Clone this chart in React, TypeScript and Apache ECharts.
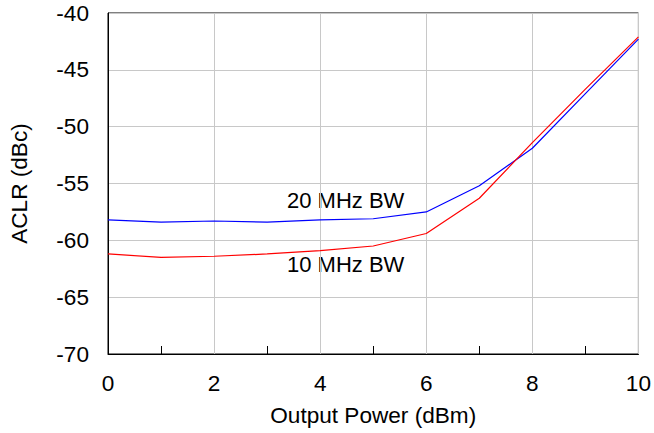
import React, { useEffect, useRef } from "react";
import * as echarts from "echarts";

const powerDbm = [0, 1, 2, 3, 4, 5, 6, 7, 8, 9, 10];
const aclr20MHz = [-58.2, -58.4, -58.3, -58.4, -58.2, -58.1, -57.5, -55.2, -51.9, -47.1, -42.3];
const aclr10MHz = [-61.2, -61.5, -61.4, -61.2, -60.9, -60.5, -59.4, -56.3, -51.4, -46.7, -42.1];
const seriesNames = ["20 MHz BW", "10 MHz BW"];

const FONT = "Liberation Sans, Arial, Helvetica, sans-serif";

export default function App() {
  const ref = useRef<HTMLDivElement>(null);
  useEffect(() => {
    document.body.style.margin = "0";
    const chart = echarts.init(ref.current!, null, { renderer: "svg" });
    chart.setOption({
      animation: false,
      backgroundColor: "#ffffff",
      grid: {
        left: 107,
        top: 13,
        right: 14,
        bottom: 79,
        show: true,
        borderColor: "#000",
        borderWidth: 1,
      },
      xAxis: {
        type: "value",
        min: 0,
        max: 10,
        interval: 2,
        name: "Output Power (dBm)",
        nameLocation: "middle",
        nameGap: 50,
        nameTextStyle: { fontFamily: FONT, fontSize: 22.6, color: "#000" },
        axisLine: { show: true, lineStyle: { color: "#000", width: 1 } },
        axisTick: { show: false, inside: true },
        minorTick: { show: true, splitNumber: 2, length: 8, lineStyle: { color: "#000", width: 1 } },
        axisLabel: { fontFamily: FONT, fontSize: 22.6, color: "#000", margin: 18 },
        splitLine: { show: true, lineStyle: { color: "#c8c8c8", width: 1 } },
      },
      yAxis: {
        type: "value",
        min: -70,
        max: -40,
        interval: 5,
        name: "ACLR (dBc)",
        nameLocation: "middle",
        nameRotate: 90,
        nameGap: 77,
        nameTextStyle: { fontFamily: FONT, fontSize: 22.6, color: "#000" },
        axisLine: { show: true, lineStyle: { color: "#000", width: 1 } },
        axisTick: { show: false },
        axisLabel: { fontFamily: FONT, fontSize: 22.6, color: "#000", margin: 19 },
        splitLine: { show: true, lineStyle: { color: "#c8c8c8", width: 1 } },
      },
      series: [
        {
          name: seriesNames[0],
          type: "line",
          data: powerDbm.map((x, i) => [x, aclr20MHz[i]]),
          showSymbol: false,
          symbol: "none",
          lineStyle: { color: "#0000ff", width: 1.2 },
        },
        {
          name: seriesNames[1],
          type: "line",
          data: powerDbm.map((x, i) => [x, aclr10MHz[i]]),
          showSymbol: false,
          symbol: "none",
          lineStyle: { color: "#ff0000", width: 1.2 },
        },
      ],
      graphic: [
        {
          type: "text",
          left: 287,
          top: 189,
          style: { text: seriesNames[0], fontFamily: FONT, fontSize: 22, fill: "#000" },
        },
        {
          type: "text",
          left: 287,
          top: 253,
          style: { text: seriesNames[1], fontFamily: FONT, fontSize: 22, fill: "#000" },
        },
      ],
    });
    return () => chart.dispose();
  }, []);
  return <div ref={ref} style={{ width: 654, height: 433 }} />;
}
